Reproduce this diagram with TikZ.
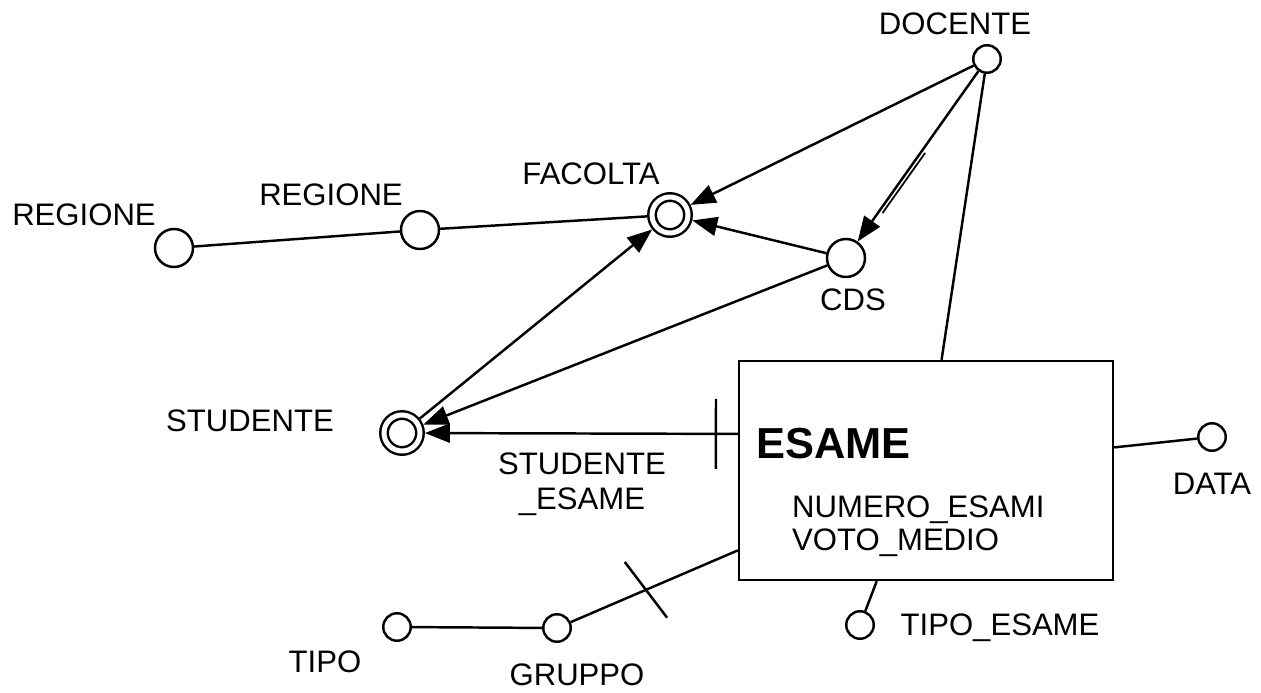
\documentclass[tikz,border=0pt]{standalone}
\usepackage{fontspec}
\setmainfont{Liberation Sans}
\usetikzlibrary{arrows.meta}

\begin{document}
\begin{tikzpicture}[x=0.02cm,y=-0.02cm,line width=1.4pt,>={Triangle[length=0.5cm,width=0.38cm]},
    font=\fontsize{17.7}{20}\selectfont]
        \tikzstyle{attr}=[circle,draw,minimum size=0.55cm,inner sep=0pt]
        \tikzstyle{level}=[circle,draw,minimum size=0.76cm,inner sep=0pt]
        \tikzstyle{dim}=[circle,draw,double,double distance=0.1cm,minimum size=0.72cm,inner sep=0pt,outer sep=2.8pt]
        \tikzstyle{fact}=[rectangle,draw,minimum width=7.48cm,minimum height=4.38cm]
        \tikzstyle{cut}=[draw,sloped,minimum width=0pt,minimum height=1.4cm,inner sep=0pt]
        \tikzstyle{txt}=[inner sep=0pt]

        \useasboundingbox (0,0) rectangle (1261,693);

        \node [attr] (docente) at (987,59) {};                %DOCENTE
        \node [dim] (facolta) at (670,215) {}
            edge [<-] (docente);
        \node [level] (regione2) at (420,230) {}
            edge (facolta);
        \node [level] (regione1) at (174,248) {}
            edge (regione2);
        \node [level] (cds) at (846,258) {}
            edge [<-] (docente)
            edge [->] (facolta);
        \node [dim] (studente) at (402,433) {}
            edge [<-] (cds)
            edge [->] (facolta);
        \draw [line width=1pt,transform canvas={xshift=0.062cm,yshift=-0.044cm},
            shorten <=1.95cm,shorten >=0.75cm] (docente) -- (cds); %double stroke

        \node [fact] (esame) at (926,470.5) {};               %fact
        \node [txt,anchor=base west,font=\fontsize{24.7}{28}\selectfont\bfseries] (esamet) at (755,458) {ESAME};
        \node [txt,anchor=base west] (m1) at (791,517) {NUMERO\_ESAMI};
        \node [txt,anchor=base west] (m2) at (791,550) {VOTO\_MEDIO};

        \node [attr] (data) at (1212,437) {};
        \node [attr] (tipoesame) at (860,625) {};
        \node [attr] (gruppo) at (557,628) {};
        \node [attr] (tipo) at (397,627) {}
            edge (gruppo);

        \draw (docente) -- (esame.82);
        \draw [->] (esame.169) -- (studente) node [cut,pos=0.07] (c1) {};
        \draw (esame.7) -- (data);
        \draw (esame.246) -- (tipoesame);
        \draw (esame.203) -- (gruppo) node [cut,pos=0.55,rotate=14] (c2) {};

        % labels
        \node [txt] (ldocente) at (955,24) {DOCENTE};
        \node [txt] (lfacolta) at (591,174) {FACOLTA};
        \node [txt] (lregione2) at (331,195) {REGIONE};
        \node [txt] (lregione1) at (84,215) {REGIONE};
        \node [txt] (lcds) at (853,300) {CDS};
        \node [txt] (lstudente) at (250,421) {STUDENTE};
        \node [txt,align=center] (lse) at (582,484) {STUDENTE\\\_ESAME};
        \node [txt] (ldata) at (1212,484) {DATA};
        \node [txt] (ltipoesame) at (1000,628) {TIPO\_ESAME};
        \node [txt] (lgruppo) at (577,675) {GRUPPO};
        \node [txt] (ltipo) at (325,662) {TIPO};
    \end{tikzpicture}
\end{document}
